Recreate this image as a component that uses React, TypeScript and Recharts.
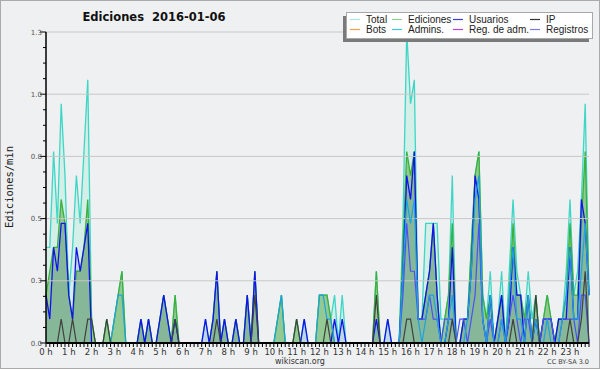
import React from "react";
import { ComposedChart, Area, Line, XAxis, YAxis, ReferenceLine } from "recharts";

// 10-minute bins, 6 per hour (values = edits per minute)
const hourLabels = ["0 h","1 h","2 h","3 h","4 h","5 h","6 h","7 h","8 h","9 h","10 h","11 h","12 h","13 h","14 h","15 h","16 h","17 h","18 h","19 h","20 h","21 h","22 h","23 h"];

const total = [
  0.4,0.4,0.8,0.5,1.0,0.7, 0.2,0.4,0.7,0.5,0.8,1.1, 0.1,0,0,0,0.1,0, 0.1,0.2,0.3,0,0,0,
  0,0.1,0,0.1,0,0, 0.1,0.2,0.1,0,0.2,0, 0,0,0,0,0,0, 0.1,0,0.1,0.3,0,0.1,
  0,0,0.1,0,0,0.2, 0,0.3,0,0,0,0, 0,0.1,0.2,0,0,0, 0.1,0,0.1,0,0,0,
  0.2,0.2,0.2,0.1,0.2,0, 0.2,0,0,0,0,0, 0,0,0,0.3,0,0, 0.1,0,0,0,0.5,1.3,
  1.0,1.1,0.1,0.1,0.5,0.5, 0.5,0.5,0.1,0.1,0.2,0.7, 0,0,0.1,0.1,0.4,0.7, 0.8,0.2,0.1,0.3,0,0.1,
  0.3,0,0.3,0.6,0.3,0.2, 0.1,0.3,0.1,0.2,0,0.1, 0.2,0.1,0,0.1,0.1,0.3, 0.6,0.2,0.3,0.6,1.0,0.2,
];
const ediciones = [
  0.2,0.3,0.4,0.4,0.6,0.5, 0.2,0.1,0.3,0.3,0.4,0.6, 0.1,0,0,0,0.1,0, 0.1,0.2,0.3,0,0,0,
  0,0.1,0,0.1,0,0, 0.1,0.2,0.1,0,0.2,0, 0,0,0,0,0,0, 0,0,0.1,0.3,0,0.1,
  0,0,0.1,0,0,0.2, 0,0.3,0,0,0,0, 0,0.1,0.2,0,0,0, 0.1,0,0,0,0,0,
  0.2,0.2,0.2,0.1,0,0, 0,0,0,0,0,0, 0,0,0,0.3,0,0, 0,0,0,0,0.4,0.8,
  0.7,0.8,0.1,0.1,0.2,0.3, 0.5,0.2,0,0.1,0.2,0.5, 0,0,0.1,0.1,0.4,0.7, 0.8,0.2,0.1,0.2,0,0.1,
  0.2,0,0.2,0.5,0.2,0.2, 0.1,0.2,0,0.2,0,0.1, 0.2,0.1,0,0.1,0.1,0.2, 0.5,0.2,0.2,0.5,0.8,0.2,
];
const usuarios = [
  0.2,0.1,0.4,0.3,0.5,0.5, 0.2,0.1,0.4,0.3,0.4,0.5, 0,0,0,0,0,0, 0,0,0,0,0,0,
  0,0.1,0,0.1,0,0, 0.1,0.2,0.1,0,0.1,0, 0,0,0,0,0,0, 0.1,0,0.1,0.3,0,0.1,
  0,0,0.1,0,0,0.2, 0,0.3,0,0,0,0, 0,0,0,0,0,0, 0,0,0.1,0,0,0,
  0,0,0,0,0.1,0, 0.1,0,0,0,0,0, 0,0,0,0.1,0,0, 0.1,0,0,0,0.3,0.7,
  0.6,0.8,0.1,0.1,0.2,0.3, 0.5,0.2,0,0,0.1,0.4, 0,0,0.1,0.1,0.3,0.7, 0.6,0.1,0,0.2,0,0.1,
  0.2,0,0.1,0.4,0.2,0.2, 0,0.2,0,0.1,0,0.1, 0.1,0.1,0,0.1,0.1,0.1, 0.4,0.1,0.1,0.6,0.5,0.2,
];
const ip = [
  0,0,0,0,0.1,0, 0,0.1,0,0,0,0.1, 0.1,0,0,0,0.1,0, 0,0,0,0,0,0,
  0,0,0,0,0,0, 0,0,0,0,0.1,0, 0,0,0,0,0,0, 0,0,0,0.1,0,0,
  0,0,0,0,0,0, 0,0.2,0,0,0,0, 0,0,0,0,0,0, 0.1,0,0,0,0,0,
  0,0,0.1,0,0,0, 0,0,0,0,0,0, 0,0,0,0.2,0,0, 0,0,0,0,0,0.1,
  0.1,0,0,0,0,0, 0,0,0,0,0,0.1, 0,0,0,0,0,0, 0,0,0,0,0,0,
  0,0,0,0.1,0,0, 0,0,0,0.2,0,0, 0,0,0,0,0,0, 0.1,0,0,0.1,0.3,0,
];
const admins = [
  0,0,0,0,0,0, 0,0,0,0,0,0, 0,0,0,0,0,0, 0.1,0.2,0.2,0,0,0,
  0,0,0,0,0,0, 0,0,0,0,0,0, 0,0,0,0,0,0, 0,0,0,0,0,0,
  0,0,0,0,0,0, 0,0,0,0,0,0, 0,0.1,0.2,0,0,0, 0,0,0,0,0,0,
  0.2,0.2,0.1,0.1,0,0, 0,0,0,0,0,0, 0,0,0,0,0,0, 0,0,0,0,0.3,0.6,
  0.5,0.6,0.1,0,0.1,0.2, 0.2,0.1,0,0,0.1,0.2, 0,0,0,0.1,0.3,0.6, 0.7,0.1,0,0.2,0,0,
  0.1,0,0.2,0.4,0.1,0.1, 0,0.2,0,0.1,0,0, 0.1,0,0,0,0.1,0.2, 0.4,0.1,0.1,0.3,0.5,0.2,
];
const registros = [
  0,0,0,0,0,0, 0,0,0,0,0,0, 0,0,0,0,0,0, 0,0,0,0,0,0,
  0,0,0,0,0,0, 0,0,0,0,0,0, 0,0,0,0,0,0, 0,0,0,0,0,0,
  0,0,0,0,0,0, 0,0,0,0,0,0, 0,0,0,0,0,0, 0,0,0,0,0,0,
  0,0,0,0,0,0, 0,0,0,0,0,0, 0,0,0,0,0,0, 0,0,0,0,0.2,0.5,
  0.3,0.3,0.1,0.1,0.1,0.2, 0.1,0.1,0,0.1,0.1,0.1, 0,0.1,0.1,0,0.1,0.2, 0.5,0.1,0,0.1,0,0,
  0.1,0,0.1,0.2,0.1,0, 0.1,0.1,0,0,0,0.1, 0.1,0.1,0,0,0.1,0.1, 0.1,0.1,0,0.2,0.2,0,
];

const legendItems = [
  { label: "Total", color: "#a8e6de" },
  { label: "Ediciones", color: "#8fd08f" },
  { label: "Usuarios", color: "#3a3ae0" },
  { label: "IP", color: "#333333" },
  { label: "Bots", color: "#f0a040" },
  { label: "Admins.", color: "#40c8e0" },
  { label: "Reg. de adm.", color: "#c040e0" },
  { label: "Registros", color: "#7b7bee" },
];

const yMajor = [0, 0.26, 0.52, 0.78, 1.04, 1.3];
const yTicks: number[] = [];
for (let k = 0; k <= 20; k++) yTicks.push(+(k * 0.065).toFixed(4));

const data = total.map((v, i) => ({
  i,
  total: v,
  ediciones: ediciones[i],
  usuarios: usuarios[i],
  ip: ip[i],
  admins: admins[i],
  registros: registros[i],
}));
const xTicks = data.map((d) => d.i);

const FONT = "DejaVu Sans";
const LFONT = "Liberation Sans";

const XTick = (props: any) => {
  const { x, y, payload } = props;
  const i = payload.value as number;
  return (
    <g>
      <line x1={x} y1={y} x2={x} y2={y + 4} stroke="#000" strokeWidth={1} />
      {i % 6 === 0 ? (
        <text x={x} y={y + 12} textAnchor="middle" fontFamily={FONT} fontSize={8.5} fill="#333">
          {hourLabels[i / 6]}
        </text>
      ) : null}
    </g>
  );
};

const YTick = (props: any) => {
  const { x, y, payload } = props;
  const v = payload.value as number;
  const major = yMajor.some((m) => Math.abs(m - v) < 1e-6);
  return (
    <g>
      <line x1={x - (major ? 6 : 3)} y1={y} x2={x} y2={y} stroke="#000" strokeWidth={1} />
      {major ? (
        <text x={x - 4} y={y + 2.5} textAnchor="end" fontFamily={FONT} fontSize={7} fill="#555">
          {v.toFixed(1)}
        </text>
      ) : null}
    </g>
  );
};

const Overlay = () => {
  const colX = [350, 392, 453, 530];
  const rowY = [19.5, 29.5];
  return (
    <svg width={600} height={370} style={{ position: "absolute", left: 0, top: 0, pointerEvents: "none" }}>
      <text x={154} y={20.5} textAnchor="middle" fontFamily={FONT} fontWeight="bold" fontSize={11.5} fill="#111" style={{ whiteSpace: "pre" }} xmlSpace="preserve">
        {"Ediciones  2016-01-06"}
      </text>
      <text transform="translate(13,187) rotate(-90)" textAnchor="middle" fontFamily="DejaVu Sans Mono" fontSize={10.5} fill="#222">
        Ediciones/min
      </text>
      <rect x={343} y={16} width={246} height={26} fill="#7a7a7a" />
      <rect x={346.5} y={12.5} width={246} height={26} fill="#ffffff" stroke="#a8a8a8" strokeWidth={1} />
      {legendItems.map((it, k) => {
        const c = k % 4;
        const r = Math.floor(k / 4);
        const sx = colX[c];
        const sy = rowY[r];
        return (
          <g key={it.label}>
            <line x1={sx} y1={sy} x2={sx + 10} y2={sy} stroke={it.color} strokeWidth={1.2} />
            <text x={sx + 16} y={sy + 3.5} fontFamily={LFONT} fontSize={10} fill="#222">
              {it.label}
            </text>
          </g>
        );
      })}
      <text x={300} y={364} textAnchor="middle" fontFamily={FONT} fontSize={8} fill="#333">
        wikiscan.org
      </text>
      <text x={589} y={364} textAnchor="end" fontFamily={FONT} fontSize={6.5} fill="#444">
        CC BY-SA 3.0
      </text>
    </svg>
  );
};

export default function App() {
  return (
    <div
      style={{
        position: "absolute",
        left: 0,
        top: 0,
        width: 600,
        height: 369,
        boxSizing: "border-box",
        border: "1px solid #aaaaaa",
        background: "#eff0f1",
        overflow: "hidden",
      }}
    >
      <div style={{ position: "absolute", left: -1, top: -1 }}>
        <ComposedChart width={600} height={370} data={data} margin={{ top: 32, right: 11, bottom: 7, left: 6 }}>
          {yMajor.slice(1).map((v) => (
            <ReferenceLine key={v} y={v} stroke="#c8c8c8" strokeWidth={1} ifOverflow="extendDomain" />
          ))}
          <XAxis
            dataKey="i"
            type="number"
            domain={[0, 143]}
            ticks={xTicks}
            interval={0}
            tick={<XTick />}
            tickLine={false}
            tickSize={0}
            tickMargin={0}
            height={20}
            axisLine={{ stroke: "#000", strokeWidth: 2 }}
          />
          <YAxis
            type="number"
            domain={[0, 1.3]}
            ticks={yTicks}
            interval={0}
            tick={<YTick />}
            tickLine={false}
            tickSize={0}
            tickMargin={0}
            width={40}
            allowDataOverflow
            axisLine={{ stroke: "#000", strokeWidth: 1.5 }}
          />
          <Area type="linear" dataKey="total" stroke="#3ed6c6" strokeWidth={1.3} fill="#d3efe7" fillOpacity={1} dot={false} activeDot={false} isAnimationActive={false} />
          <Area type="linear" dataKey="ediciones" stroke="#3cb03c" strokeWidth={1.3} fill="#93ca93" fillOpacity={1} dot={false} activeDot={false} isAnimationActive={false} />
          <Line type="linear" dataKey="registros" stroke="#4a52f2" strokeWidth={1.2} dot={false} activeDot={false} isAnimationActive={false} />
          <Line type="linear" dataKey="admins" stroke="#1fa3df" strokeWidth={1.2} dot={false} activeDot={false} isAnimationActive={false} />
          <Area type="linear" dataKey="usuarios" stroke="#1212ee" strokeWidth={1.3} fill="#3040c0" fillOpacity={0.13} dot={false} activeDot={false} isAnimationActive={false} />
          <Line type="linear" dataKey="ip" stroke="#404040" strokeWidth={1.2} dot={false} activeDot={false} isAnimationActive={false} />
        </ComposedChart>
      </div>
      <div style={{ position: "absolute", left: -1, top: -1 }}>
        <Overlay />
      </div>
    </div>
  );
}
